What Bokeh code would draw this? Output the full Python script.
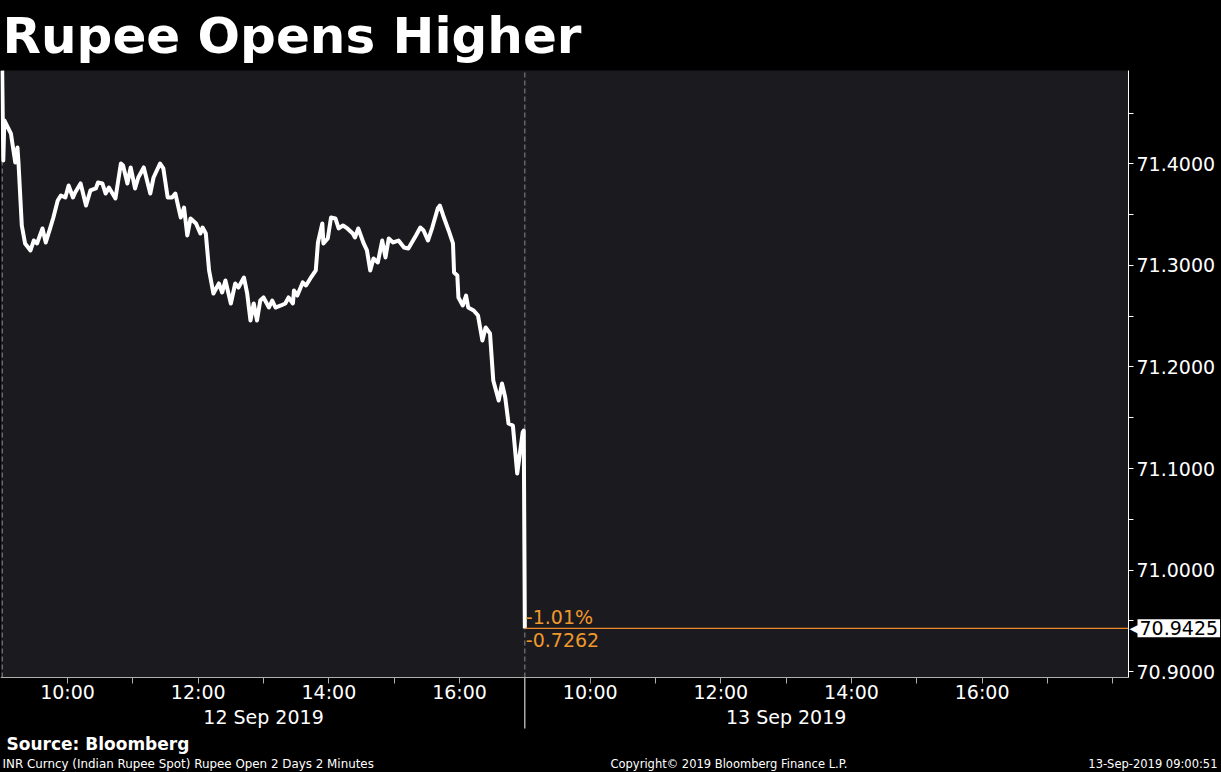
from bokeh.plotting import figure
from bokeh.models import FixedTicker, LinearAxis, Label, Range1d, ColumnDataSource, BoxAnnotation
from bokeh.embed import file_html
from bokeh.resources import INLINE

TITLE = "Rupee Opens Higher"
SOURCE = "Source: Bloomberg"
SUBTITLE = "INR Curncy (Indian Rupee Spot) Rupee Open 2 Days 2 Minutes"
COPYRIGHT = "Copyright\u00a9 2019 Bloomberg Finance L.P."
STAMP = "13-Sep-2019 09:00:51"
DAYS = ["12 Sep 2019", "13 Sep 2019"]
SESSION_OPEN_HOUR = 9
SESSION_HOURS = 8
HOUR_LABELS = [10, 12, 14, 16]
Y_TICKS = [70.9, 71.0, 71.1, 71.2, 71.3, 71.4]
Y_MINOR = [70.95, 71.05, 71.15, 71.25, 71.35, 71.45]

# minutes after 09:00 on 12 Sep 2019
day1_minutes = [0, 1, 2, 8, 12, 14, 15, 18, 21, 26, 29, 32, 37, 40, 44, 47, 51, 54, 58, 61,
                65, 67, 72, 77, 81, 86, 88, 92, 95, 98, 104, 109, 111, 115, 118, 122, 125, 130,
                136, 139, 145, 148, 152, 156, 159, 164, 167, 170, 173, 178, 182, 184, 187, 190,
                194, 199, 202, 205, 210, 214, 217, 222, 225, 228, 231, 234, 237, 240, 245, 248,
                251, 256, 260, 263, 267, 268, 271, 276, 279, 283, 288, 290, 294, 295, 299, 302,
                306, 309, 313, 317, 322, 324, 327, 332, 335, 338, 341, 345, 349, 352, 355, 359,
                364, 369, 373, 380, 384, 387, 391, 395, 400, 402, 405, 410, 414, 415, 418, 419,
                423, 426, 428, 433, 437, 441, 444, 448, 451, 456, 459, 462, 465, 469, 473, 478, 479]
day1_price = [71.4920, 71.4034, 71.4429, 71.4300, 71.4015, 71.4163, 71.4005, 71.3394, 71.3217,
              71.3148, 71.3246, 71.3217, 71.3365, 71.3227, 71.3365, 71.3473, 71.3640, 71.3690,
              71.3670, 71.3788, 71.3670, 71.3719, 71.3808, 71.3591, 71.3739, 71.3759, 71.3818,
              71.3808, 71.3709, 71.3768, 71.3660, 71.4005, 71.3985, 71.3808, 71.3966, 71.3759,
              71.3867, 71.3966, 71.3709, 71.3867, 71.4005, 71.3956, 71.3670, 71.3670, 71.3709,
              71.3473, 71.3571, 71.3296, 71.3463, 71.3414, 71.3315, 71.3374, 71.3315, 71.2951,
              71.2724, 71.2823, 71.2734, 71.2852, 71.2626, 71.2823, 71.2783, 71.2882, 71.2724,
              71.2458, 71.2626, 71.2458, 71.2655, 71.2685, 71.2586, 71.2655, 71.2586, 71.2606,
              71.2626, 71.2685, 71.2626, 71.2754, 71.2704, 71.2833, 71.2803, 71.2872, 71.2951,
              71.3227, 71.3414, 71.3217, 71.3266, 71.3473, 71.3463, 71.3365, 71.3394, 71.3365,
              71.3315, 71.3276, 71.3365, 71.3217, 71.3148, 71.2951, 71.3069, 71.3030, 71.3246,
              71.3079, 71.3266, 71.3227, 71.3246, 71.3177, 71.3167, 71.3296, 71.3374, 71.3345,
              71.3246, 71.3374, 71.3562, 71.3591, 71.3493, 71.3345, 71.3217, 71.2931, 71.2901,
              71.2685, 71.2606, 71.2704, 71.2586, 71.2557, 71.2507, 71.2261, 71.2389, 71.2330,
              71.1867, 71.1670, 71.1837, 71.1700, 71.1443, 71.1424, 71.0951, 71.1355, 71.1374]
# minutes after 09:00 on 13 Sep 2019
day2_minutes = [0]
day2_price = [70.9425]
LAST_PRICE = "70.9425"
CHANGE_PCT = "-1.01%"
CHANGE_ABS = "-0.7262"

FONT = "DejaVu Sans"
ORANGE = "#f0982c"
PLOT_BG = "#1b1b1f"

# chart window (session hours on x, price on y)
X_START, X_END = -0.026, 17.24
Y_LOW, Y_HIGH = 70.8941, 71.4921
W, H = 1221, 772

xs = [m / 60 for m in day1_minutes] + [SESSION_HOURS + m / 60 for m in day2_minutes]
ys = day1_price + day2_price
src = ColumnDataSource(dict(x=xs, y=ys))

px_per_hour = 1128 / (X_END - X_START)
px_per_unit = 607 / (Y_HIGH - Y_LOW)
x_range = Range1d(X_START, X_START + W / px_per_hour)
y_range = Range1d(Y_HIGH - (H - 70) / px_per_unit, Y_HIGH + 70 / px_per_unit)

p = figure(width=W, height=H, min_border=0, x_range=x_range, y_range=y_range,
           y_axis_location="right", output_backend="svg", toolbar_location=None,
           background_fill_color="#000000", border_fill_color="#000000",
           outline_line_color=None)
p.xgrid.visible = False
p.ygrid.visible = False

p.add_layout(BoxAnnotation(left=X_START, right=X_END, bottom=Y_LOW, top=Y_HIGH,
                           fill_color=PLOT_BG, fill_alpha=1.0, line_color=None,
                           level="underlay"))

# day separators
day_starts = [d * SESSION_HOURS for d in range(2)]
p.segment(x0=day_starts, y0=[Y_LOW] * 2, x1=day_starts, y1=[Y_HIGH] * 2,
          line_color="#8c8c8c", line_dash="5 3", line_width=1)
p.segment(x0=[SESSION_HOURS], y0=[Y_LOW], x1=[SESSION_HOURS], y1=[Y_LOW - 51 / px_per_unit],
          line_color="white", line_width=1)

p.line("x", "y", source=src, line_color="white", line_width=4, line_join="round")

# last price line
p.segment(x0=[xs[-1]], y0=[ys[-1]], x1=[X_END], y1=[ys[-1]], line_color="#e8892a", line_width=1.2)
p.add_layout(Label(x=xs[-1], y=ys[-1], x_offset=1, y_offset=11, text=CHANGE_PCT,
                   text_color=ORANGE, text_font=FONT, text_font_size="19px",
                   text_baseline="alphabetic"))
p.add_layout(Label(x=xs[-1], y=ys[-1], x_offset=1, y_offset=-5, text=CHANGE_ABS,
                   text_color=ORANGE, text_font=FONT, text_font_size="19px",
                   text_baseline="top"))

# y axis (right edge of the chart window)
ya = p.yaxis[0]
ya.fixed_location = X_END
ya.bounds = (Y_LOW, Y_HIGH)
ya.ticker = FixedTicker(ticks=Y_TICKS, minor_ticks=Y_MINOR)
ya.major_label_overrides = {t: f"{t:.4f}" for t in Y_TICKS}
ya.axis_line_color = "white"
ya.major_tick_line_color = "white"
ya.minor_tick_line_color = "white"
ya.major_tick_out = 5
ya.major_tick_in = 0
ya.minor_tick_out = 5
ya.minor_tick_in = 0
ya.major_label_standoff = 3
ya.major_label_text_color = "white"
ya.major_label_text_font = FONT
ya.major_label_text_font_size = "19px"

# price tag
p.add_layout(Label(x=X_END, y=ys[-1], x_offset=1, text="\u25c0", text_color="white",
                   text_font=FONT, text_font_size="14px", text_baseline="middle"))
p.add_layout(Label(x=X_END, y=ys[-1], x_offset=9, text=LAST_PRICE,
                   text_color="black", text_font=FONT, text_font_size="19px",
                   text_baseline="middle", background_fill_color="white", padding=2))

# time axis
major_hours, labels = [], {}
for d in range(2):
    for h in HOUR_LABELS:
        pos = d * SESSION_HOURS + (h - SESSION_OPEN_HOUR)
        major_hours.append(pos)
        labels[pos] = f"{h}:00"
minor_hours = [h for h in range(1, 2 * SESSION_HOURS + 2) if h not in major_hours and h != SESSION_HOURS]
xa = p.xaxis[0]
xa.fixed_location = Y_LOW
xa.bounds = (X_START, X_END)
xa.ticker = FixedTicker(ticks=major_hours, minor_ticks=minor_hours)
xa.major_label_overrides = labels
xa.axis_line_color = "#b0b0b0"
xa.major_tick_line_color = "#b0b0b0"
xa.minor_tick_line_color = "#b0b0b0"
xa.major_tick_out = 6
xa.major_tick_in = 0
xa.minor_tick_out = 6
xa.minor_tick_in = 0
xa.major_label_standoff = -3
xa.major_label_text_color = "white"
xa.major_label_text_font = FONT
xa.major_label_text_font_size = "19px"

# date axis
date_pos = [d * SESSION_HOURS + SESSION_HOURS / 2 for d in range(2)]
da = LinearAxis(ticker=FixedTicker(ticks=date_pos, minor_ticks=[]),
                major_label_overrides={pos: lab for pos, lab in zip(date_pos, DAYS)},
                fixed_location=Y_LOW, axis_line_color=None,
                major_tick_in=0, major_tick_out=0, minor_tick_in=0, minor_tick_out=0,
                major_label_standoff=28, major_label_text_color="white",
                major_label_text_font=FONT, major_label_text_font_size="19px")
p.add_layout(da, "below")

# title and footer
p.add_layout(Label(x=2, y=H - 35, x_units="screen", y_units="screen", text=TITLE,
                   text_color="white", text_font=FONT, text_font_size="50px",
                   text_font_style="bold", text_baseline="alphabetic"))
p.add_layout(Label(x=6, y=H - 743, x_units="screen", y_units="screen", text=SOURCE,
                   text_color="white", text_font=FONT, text_font_size="17px",
                   text_font_style="bold", text_baseline="middle"))
p.add_layout(Label(x=2, y=H - 763, x_units="screen", y_units="screen", text=SUBTITLE,
                   text_color="white", text_font=FONT, text_font_size="11.9px",
                   text_baseline="middle"))
p.add_layout(Label(x=610, y=H - 763, x_units="screen", y_units="screen", text=COPYRIGHT,
                   text_color="white", text_font=FONT, text_font_size="11.5px",
                   text_baseline="middle"))
p.add_layout(Label(x=1217, y=H - 763, x_units="screen", y_units="screen", text=STAMP,
                   text_color="white", text_font=FONT, text_font_size="11.5px",
                   text_baseline="middle", text_align="right"))

html = file_html(p, INLINE)
html = html.replace("</head>", "<style>html,body{background:#000000;}</style></head>", 1)
open("out.html", "w").write(html)
